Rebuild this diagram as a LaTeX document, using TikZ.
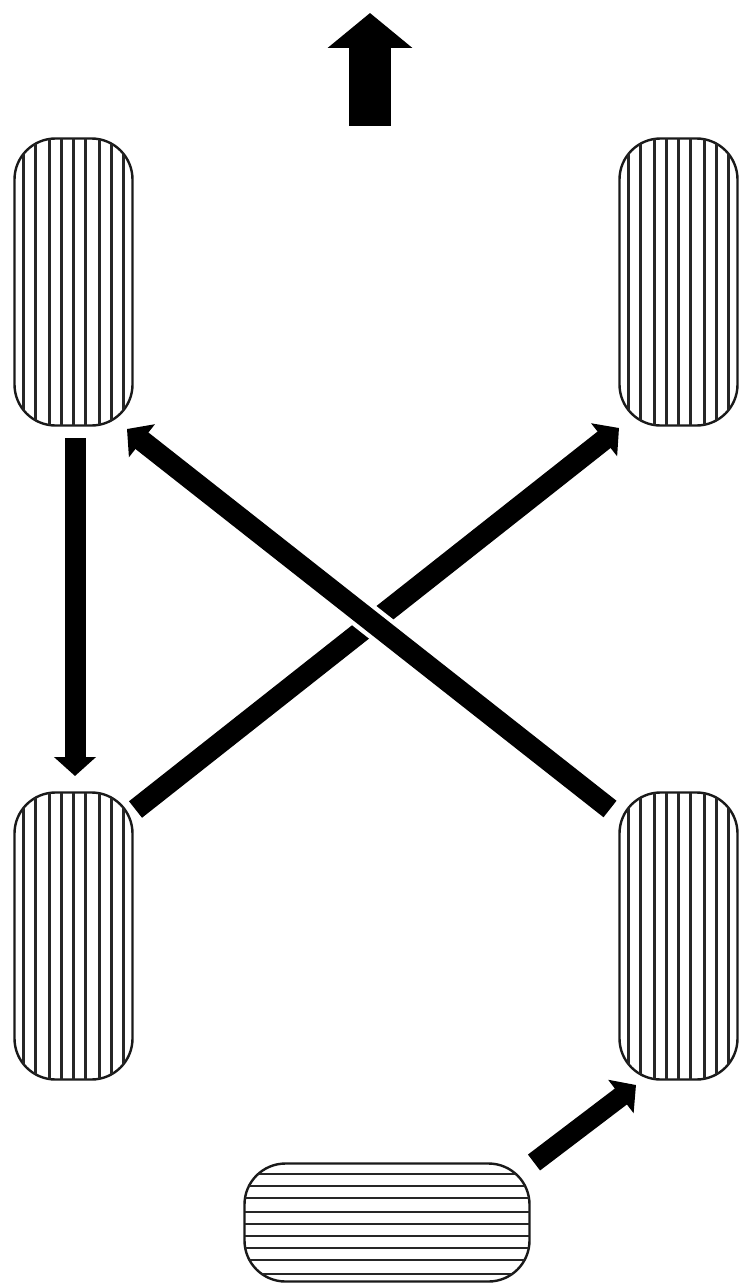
\documentclass[tikz,border=0pt]{standalone}
\usetikzlibrary{arrows.meta,shapes.misc}
\tikzset{
  tyre/.style={draw=black!90,line width=2.4pt,rounded corners=41pt,minimum width=118pt,minimum height=287pt,inner sep=0pt,outer sep=0pt},
  tyrewide/.style={tyre,minimum width=285pt,minimum height=118pt},
  tread/.style={draw=black!85,line width=2.3pt},
  bigarrow/.style={draw=black,line width=21pt,-{Triangle[length=19pt,width=41pt]}},
  halo/.style={draw=white,line width=30pt}
}
\newcommand{\vtread}[1]{%
  \begin{scope}
    \clip[rounded corners=41pt] (#1.south west) rectangle (#1.north east);
    \foreach \d in {-50,-38,-24,-12,0,12,26,38,50}
      \draw[tread] ([xshift=\d pt]#1.north) -- ([xshift=\d pt]#1.south);
  \end{scope}}
\begin{document}
\begin{tikzpicture}[x=1pt,y=-1pt]
\useasboundingbox[fill=white] (0,0) rectangle (742,1284);
\node[tyre] (fl) at (73.5,282) {};
\node[tyre] (fr) at (678.5,282) {};
\node[tyre] (rl) at (73.5,936) {};
\node[tyre] (rr) at (678.5,936) {};
\node[tyrewide] (sp) at (387,1222.5) {};
\vtread{fl}\vtread{fr}\vtread{rl}\vtread{rr}
\begin{scope}
  \clip[rounded corners=41pt] (sp.south west) rectangle (sp.north east);
  \foreach \d in {48.5,36.5,24.5,10.5,-1.5,-13.5,-25.5,-37.5,-51.5}
    \draw[tread] ([yshift=\d pt]sp.west) -- ([yshift=\d pt]sp.east);
\end{scope}
% travel direction
\coordinate (dirs) at (370,126);
\coordinate (dire) at (370,13);
\draw[line width=42pt,-{Triangle[length=35pt,width=83pt]}] (dirs) -- (dire);
% rotation
\coordinate (a1s) at (75,438);
\coordinate (a1e) at (75,776);
\draw[bigarrow] (a1s) -- (a1e);
\coordinate (a2s) at (135.5,809.5);
\coordinate (a2e) at (619,428);
\draw[bigarrow] (a2s) -- (a2e);
\coordinate (a3s) at (610,809);
\coordinate (a3e) at (127,429);
\draw[halo,shorten >=285pt,shorten <=285pt] (a3s) -- (a3e);
\draw[bigarrow] (a3s) -- (a3e);
\coordinate (a4s) at (534,1162.5);
\coordinate (a4e) at (636,1085);
\draw[bigarrow,line width=20pt] (a4s) -- (a4e);
\end{tikzpicture}
\end{document}
